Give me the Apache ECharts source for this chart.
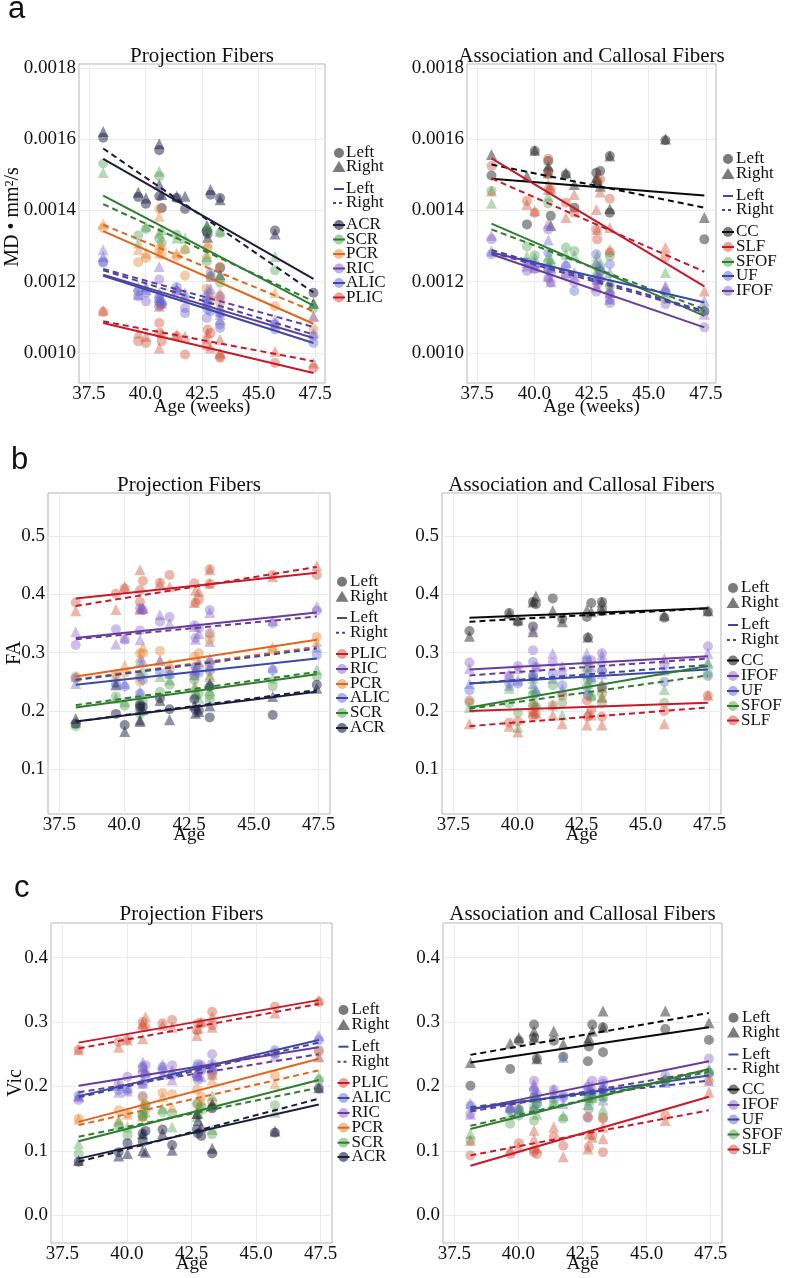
<!DOCTYPE html>
<html><head><meta charset="utf-8">
<script src="https://cdn.jsdelivr.net/npm/echarts@6/dist/echarts.min.js"></script>
<style>html,body{margin:0;padding:0;background:#fff}#c{width:788px;height:1278px}</style>
</head><body><div id="c"></div>
<script>
// ---------- data ----------
const ages = [38.13, 39.68, 40.02, 40.61, 40.61, 40.72, 41.38, 41.75, 42.71, 42.75, 42.88, 43.30, 43.30, 45.73, 47.43];
const fitAges = [38.13, 47.43];
const xTicks = [37.5, 40.0, 42.5, 45.0, 47.5];
const mdTicks = [0.0010, 0.0012, 0.0014, 0.0016, 0.0018];
const faTicks = [0.1, 0.2, 0.3, 0.4, 0.5];
const vicTicks = [0.0, 0.1, 0.2, 0.3, 0.4];

// MD, projection fibers
const md_ACR_L = [0.001604, 0.001438, 0.001419, 0.001569, 0.001440, 0.001407, 0.001435, 0.001404, 0.001342, 0.001335, 0.001444, 0.001435, 0.001239, 0.001344, 0.001169];
const md_ACR_R = [0.001622, 0.001451, 0.001435, 0.001587, 0.001473, 0.001445, 0.001440, 0.001440, 0.001357, 0.001325, 0.001459, 0.001430, 0.001220, 0.001334, 0.001140];
const md_SCR_L = [0.001532, 0.001330, 0.001348, 0.001496, 0.001320, 0.001309, 0.001332, 0.001290, 0.001257, 0.001346, 0.001215, 0.001337, 0.001197, 0.001232, 0.001126];
const md_SCR_R = [0.001507, 0.001309, 0.001356, 0.001510, 0.001337, 0.001346, 0.001323, 0.001323, 0.001271, 0.001356, 0.001223, 0.001342, 0.001215, 0.001271, 0.001140];
const md_PCR_L = [0.001351, 0.001255, 0.001267, 0.001404, 0.001292, 0.001276, 0.001271, 0.001217, 0.001180, 0.001295, 0.001150, 0.001243, 0.001140, 0.001131, 0.001066];
const md_PCR_R = [0.001363, 0.001290, 0.001280, 0.001384, 0.001281, 0.001304, 0.001281, 0.001295, 0.001281, 0.001309, 0.001169, 0.001169, 0.001160, 0.001170, 0.001103];
const md_RIC_L = [0.001257, 0.001159, 0.001145, 0.001206, 0.001155, 0.001136, 0.001173, 0.001126, 0.001098, 0.001150, 0.001225, 0.001159, 0.001080, 0.001080, 0.001047];
const md_RIC_R = [0.001290, 0.001187, 0.001178, 0.001243, 0.001145, 0.001140, 0.001178, 0.001159, 0.001140, 0.001178, 0.001215, 0.001131, 0.001108, 0.001094, 0.001103];
const md_ALIC_L = [0.001253, 0.001173, 0.001169, 0.001145, 0.001131, 0.001140, 0.001185, 0.001112, 0.001136, 0.001122, 0.001117, 0.001112, 0.001070, 0.001066, 0.001028];
const md_ALIC_R = [0.001271, 0.001164, 0.001187, 0.001169, 0.001155, 0.001150, 0.001183, 0.001169, 0.001164, 0.001150, 0.001180, 0.001117, 0.001094, 0.001084, 0.001056];
const md_PLIC_L = [0.001115, 0.001033, 0.001028, 0.001084, 0.001056, 0.001033, 0.001047, 0.000996, 0.001019, 0.001066, 0.001056, 0.000986, 0.000991, 0.000972, 0.000958];
const md_PLIC_R = [0.001120, 0.001056, 0.001047, 0.001131, 0.001014, 0.001056, 0.001052, 0.001047, 0.001042, 0.001056, 0.001014, 0.001038, 0.001000, 0.001005, 0.000972];
// fitted lines: [left start, left end, right start, right end]
const md_ACR_fit = [0.001545, 0.001208, 0.001574, 0.001170];
const md_SCR_fit = [0.001442, 0.001133, 0.001418, 0.001145];
const md_PCR_fit = [0.001342, 0.001082, 0.001360, 0.001117];
const md_RIC_fit = [0.001220, 0.001042, 0.001236, 0.001073];
const md_ALIC_fit = [0.001217, 0.001028, 0.001232, 0.001052];
const md_PLIC_fit = [0.001084, 0.000944, 0.001089, 0.000977];

// MD, association and callosal fibers
const md_CC_L = [0.001498, 0.001361, 0.001567, 0.001539, 0.001511, 0.001385, 0.001501, 0.001408, 0.001506, 0.001482, 0.001511, 0.001553, 0.001394, 0.001597, 0.001319];
const md_CC_R = [0.001557, 0.001497, 0.001569, 0.001525, 0.001506, 0.001358, 0.001506, 0.001473, 0.001492, 0.001482, 0.001468, 0.001553, 0.001405, 0.001601, 0.001380];
const md_SLF_L = [0.001525, 0.001427, 0.001394, 0.001545, 0.001501, 0.001459, 0.001422, 0.001394, 0.001347, 0.001319, 0.001487, 0.001433, 0.001282, 0.001268, 0.001118];
const md_SLF_R = [0.001455, 0.001417, 0.001399, 0.001459, 0.001473, 0.001461, 0.001380, 0.001445, 0.001403, 0.001347, 0.001452, 0.001352, 0.001291, 0.001296, 0.001174];
const md_SFOF_L = [0.001455, 0.001299, 0.001274, 0.001420, 0.001254, 0.001244, 0.001296, 0.001286, 0.001244, 0.001212, 0.001244, 0.001272, 0.001188, 0.001151, 0.001118];
const md_SFOF_R = [0.001420, 0.001272, 0.001268, 0.001441, 0.001272, 0.001265, 0.001277, 0.001274, 0.001230, 0.001272, 0.001235, 0.001202, 0.001184, 0.001226, 0.001123];
const md_UF_L = [0.001277, 0.001254, 0.001244, 0.001282, 0.001235, 0.001226, 0.001244, 0.001174, 0.001277, 0.001202, 0.001230, 0.001249, 0.001151, 0.001170, 0.001118];
const md_UF_R = [0.001286, 0.001254, 0.001254, 0.001317, 0.001244, 0.001240, 0.001254, 0.001226, 0.001254, 0.001216, 0.001244, 0.001226, 0.001170, 0.001184, 0.001146];
const md_IFOF_L = [0.001319, 0.001230, 0.001235, 0.001347, 0.001209, 0.001198, 0.001216, 0.001198, 0.001172, 0.001193, 0.001207, 0.001165, 0.001140, 0.001137, 0.001072];
const md_IFOF_R = [0.001330, 0.001244, 0.001240, 0.001364, 0.001216, 0.001200, 0.001226, 0.001216, 0.001188, 0.001207, 0.001216, 0.001179, 0.001151, 0.001188, 0.001109];
const md_CC_fit = [0.001489, 0.001442, 0.001529, 0.001408];
const md_SLF_fit = [0.001546, 0.001187, 0.001490, 0.001228];
const md_SFOF_fit = [0.001363, 0.001104, 0.001347, 0.001123];
const md_UF_fit = [0.001282, 0.001142, 0.001289, 0.001118];
const md_IFOF_fit = [0.001277, 0.001072, 0.001282, 0.001114];

// FA, projection fibers
const fa_PLIC_L = [0.386, 0.401, 0.410, 0.387, 0.407, 0.423, 0.420, 0.433, 0.419, 0.386, 0.391, 0.443, 0.418, 0.433, 0.433];
const fa_PLIC_R = [0.372, 0.374, 0.414, 0.442, 0.374, 0.376, 0.419, 0.413, 0.386, 0.407, 0.405, 0.442, 0.419, 0.430, 0.449];
const fa_RIC_L = [0.313, 0.340, 0.322, 0.338, 0.376, 0.373, 0.353, 0.361, 0.347, 0.325, 0.342, 0.373, 0.333, 0.350, 0.372];
const fa_RIC_R = [0.336, 0.315, 0.325, 0.322, 0.376, 0.376, 0.365, 0.350, 0.345, 0.323, 0.333, 0.369, 0.319, 0.355, 0.379];
const fa_PCR_L = [0.259, 0.263, 0.265, 0.299, 0.250, 0.299, 0.303, 0.271, 0.293, 0.275, 0.299, 0.322, 0.279, 0.305, 0.327];
const fa_PCR_R = [0.259, 0.263, 0.279, 0.292, 0.265, 0.310, 0.287, 0.282, 0.262, 0.242, 0.285, 0.336, 0.262, 0.310, 0.319];
const fa_ALIC_L = [0.256, 0.247, 0.242, 0.259, 0.230, 0.253, 0.266, 0.262, 0.260, 0.276, 0.265, 0.283, 0.269, 0.270, 0.296];
const fa_ALIC_R = [0.247, 0.250, 0.247, 0.285, 0.233, 0.285, 0.287, 0.265, 0.270, 0.271, 0.282, 0.290, 0.276, 0.275, 0.310];
const fa_SCR_L = [0.174, 0.225, 0.209, 0.195, 0.213, 0.216, 0.233, 0.245, 0.253, 0.226, 0.230, 0.227, 0.219, 0.242, 0.259];
const fa_SCR_R = [0.180, 0.222, 0.216, 0.202, 0.209, 0.270, 0.259, 0.253, 0.242, 0.230, 0.222, 0.259, 0.235, 0.256, 0.271];
const fa_ACR_L = [0.178, 0.195, 0.176, 0.210, 0.206, 0.207, 0.222, 0.203, 0.220, 0.202, 0.201, 0.242, 0.189, 0.193, 0.245];
const fa_ACR_R = [0.187, 0.245, 0.165, 0.182, 0.185, 0.202, 0.218, 0.185, 0.210, 0.196, 0.199, 0.247, 0.209, 0.225, 0.239];
const fa_PLIC_fit = [0.393, 0.437, 0.380, 0.447];
const fa_RIC_fit = [0.325, 0.369, 0.323, 0.362];
const fa_PCR_fit = [0.259, 0.322, 0.254, 0.310];
const fa_ALIC_fit = [0.245, 0.290, 0.253, 0.307];
const fa_SCR_fit = [0.206, 0.263, 0.210, 0.267];
const fa_ACR_fit = [0.182, 0.233, 0.182, 0.236];

// FA, association and callosal fibers
const fa_CC_L = [0.337, 0.368, 0.353, 0.345, 0.387, 0.383, 0.393, 0.358, 0.361, 0.326, 0.385, 0.387, 0.372, 0.360, 0.370];
const fa_CC_R = [0.328, 0.367, 0.356, 0.336, 0.387, 0.397, 0.372, 0.353, 0.373, 0.327, 0.370, 0.387, 0.373, 0.364, 0.372];
const fa_IFOF_L = [0.283, 0.260, 0.277, 0.262, 0.304, 0.276, 0.283, 0.262, 0.284, 0.262, 0.287, 0.299, 0.269, 0.279, 0.311];
const fa_IFOF_R = [0.273, 0.263, 0.273, 0.341, 0.264, 0.276, 0.299, 0.277, 0.299, 0.279, 0.276, 0.296, 0.264, 0.290, 0.299];
const fa_UF_L = [0.235, 0.247, 0.247, 0.284, 0.259, 0.230, 0.264, 0.244, 0.287, 0.227, 0.253, 0.269, 0.242, 0.250, 0.260];
const fa_UF_R = [0.247, 0.244, 0.253, 0.247, 0.261, 0.236, 0.256, 0.237, 0.264, 0.236, 0.259, 0.287, 0.247, 0.270, 0.281];
const fa_SFOF_L = [0.214, 0.213, 0.197, 0.210, 0.227, 0.207, 0.244, 0.214, 0.241, 0.253, 0.224, 0.213, 0.230, 0.214, 0.264];
const fa_SFOF_R = [0.206, 0.239, 0.172, 0.239, 0.256, 0.213, 0.210, 0.193, 0.276, 0.247, 0.227, 0.224, 0.241, 0.237, 0.284];
const fa_SLF_L = [0.218, 0.180, 0.182, 0.199, 0.191, 0.195, 0.210, 0.226, 0.218, 0.190, 0.202, 0.190, 0.239, 0.200, 0.226];
const fa_SLF_R = [0.178, 0.174, 0.164, 0.199, 0.216, 0.196, 0.193, 0.178, 0.176, 0.196, 0.193, 0.176, 0.224, 0.178, 0.227];
const fa_CC_fit = [0.360, 0.376, 0.353, 0.376];
const fa_IFOF_fit = [0.271, 0.294, 0.261, 0.290];
const fa_UF_fit = [0.247, 0.271, 0.247, 0.279];
const fa_SFOF_fit = [0.206, 0.277, 0.204, 0.261];
const fa_SLF_fit = [0.200, 0.214, 0.174, 0.206];

// Vic, projection fibers
const vic_PLIC_L = [0.257, 0.269, 0.273, 0.300, 0.292, 0.292, 0.298, 0.303, 0.287, 0.298, 0.298, 0.316, 0.295, 0.324, 0.331];
const vic_PLIC_R = [0.257, 0.261, 0.272, 0.274, 0.298, 0.308, 0.295, 0.292, 0.279, 0.290, 0.300, 0.308, 0.292, 0.314, 0.334];
const vic_ALIC_L = [0.186, 0.194, 0.194, 0.185, 0.230, 0.219, 0.230, 0.217, 0.230, 0.235, 0.225, 0.235, 0.221, 0.256, 0.272];
const vic_ALIC_R = [0.186, 0.202, 0.198, 0.238, 0.210, 0.222, 0.234, 0.225, 0.222, 0.217, 0.230, 0.235, 0.228, 0.254, 0.279];
const vic_RIC_L = [0.179, 0.204, 0.215, 0.221, 0.204, 0.233, 0.225, 0.233, 0.216, 0.210, 0.233, 0.250, 0.225, 0.251, 0.256];
const vic_RIC_R = [0.184, 0.191, 0.193, 0.230, 0.205, 0.225, 0.219, 0.210, 0.222, 0.219, 0.215, 0.231, 0.219, 0.247, 0.246];
const vic_PCR_L = [0.150, 0.163, 0.158, 0.183, 0.153, 0.171, 0.190, 0.188, 0.195, 0.173, 0.184, 0.217, 0.176, 0.217, 0.254];
const vic_PCR_R = [0.149, 0.149, 0.157, 0.154, 0.173, 0.168, 0.184, 0.168, 0.158, 0.168, 0.178, 0.210, 0.173, 0.204, 0.246];
const vic_SCR_L = [0.095, 0.138, 0.124, 0.153, 0.155, 0.171, 0.160, 0.158, 0.173, 0.155, 0.168, 0.126, 0.168, 0.171, 0.210];
const vic_SCR_R = [0.111, 0.146, 0.137, 0.127, 0.166, 0.160, 0.166, 0.137, 0.153, 0.158, 0.166, 0.186, 0.133, 0.160, 0.215];
const vic_ACR_L = [0.083, 0.098, 0.112, 0.127, 0.114, 0.131, 0.133, 0.109, 0.133, 0.127, 0.123, 0.096, 0.166, 0.128, 0.197];
const vic_ACR_R = [0.085, 0.092, 0.096, 0.100, 0.126, 0.098, 0.127, 0.101, 0.158, 0.147, 0.137, 0.104, 0.173, 0.131, 0.198];
const vic_PLIC_fit = [0.268, 0.334, 0.259, 0.328];
const vic_ALIC_fit = [0.185, 0.272, 0.183, 0.268];
const vic_RIC_fit = [0.201, 0.261, 0.191, 0.250];
const vic_PCR_fit = [0.145, 0.243, 0.140, 0.225];
const vic_SCR_fit = [0.115, 0.210, 0.122, 0.198];
const vic_ACR_fit = [0.088, 0.172, 0.083, 0.181];

// Vic, association and callosal fibers
const vic_CC_L = [0.201, 0.227, 0.271, 0.296, 0.276, 0.243, 0.271, 0.246, 0.239, 0.262, 0.296, 0.253, 0.292, 0.289, 0.272];
const vic_CC_R = [0.237, 0.267, 0.276, 0.286, 0.276, 0.243, 0.286, 0.266, 0.271, 0.276, 0.286, 0.317, 0.292, 0.317, 0.299];
const vic_IFOF_L = [0.157, 0.165, 0.165, 0.209, 0.194, 0.188, 0.195, 0.186, 0.199, 0.183, 0.209, 0.209, 0.194, 0.217, 0.243];
const vic_IFOF_R = [0.157, 0.168, 0.168, 0.204, 0.201, 0.183, 0.196, 0.173, 0.204, 0.194, 0.201, 0.201, 0.199, 0.209, 0.209];
const vic_UF_L = [0.170, 0.163, 0.155, 0.163, 0.183, 0.173, 0.181, 0.183, 0.151, 0.194, 0.188, 0.194, 0.204, 0.209, 0.220];
const vic_UF_R = [0.174, 0.168, 0.163, 0.168, 0.191, 0.188, 0.189, 0.245, 0.172, 0.194, 0.188, 0.179, 0.194, 0.206, 0.225];
const vic_SFOF_L = [0.116, 0.142, 0.163, 0.147, 0.168, 0.173, 0.173, 0.150, 0.181, 0.165, 0.181, 0.152, 0.183, 0.209, 0.222];
const vic_SFOF_R = [0.127, 0.157, 0.165, 0.183, 0.183, 0.157, 0.174, 0.155, 0.184, 0.179, 0.183, 0.165, 0.186, 0.214, 0.227];
const vic_SLF_L = [0.093, 0.095, 0.112, 0.101, 0.098, 0.095, 0.122, 0.108, 0.153, 0.106, 0.124, 0.098, 0.150, 0.155, 0.209];
const vic_SLF_R = [0.116, 0.101, 0.106, 0.132, 0.119, 0.105, 0.137, 0.091, 0.103, 0.126, 0.121, 0.119, 0.137, 0.147, 0.191];
const vic_CC_fit = [0.237, 0.292, 0.249, 0.314];
const vic_IFOF_fit = [0.164, 0.239, 0.161, 0.225];
const vic_UF_fit = [0.165, 0.217, 0.168, 0.209];
const vic_SFOF_fit = [0.134, 0.227, 0.139, 0.223];
const vic_SLF_fit = [0.077, 0.184, 0.093, 0.163];

// ---------- styles ----------
const lineColor = {ACR:'#1c1c3c', SCR:'#2f7d2f', PCR:'#e2661a', RIC:'#6a3b9c', ALIC:'#3b49a6', PLIC:'#c8192b',
  CC:'#0a0a0a', SLF:'#c8192b', SFOF:'#2f7d2f', UF:'#3b49a6', IFOF:'#6a3b9c'};
const pointColor = {ACR:'rgba(30,30,70,0.62)', SCR:'rgba(70,155,70,0.48)', PCR:'rgba(232,132,50,0.52)',
  RIC:'rgba(128,88,200,0.48)', ALIC:'rgba(92,100,212,0.5)', PLIC:'rgba(212,88,62,0.55)',
  CC:'rgba(40,40,40,0.62)', SLF:'rgba(212,88,62,0.55)', SFOF:'rgba(70,155,70,0.48)', UF:'rgba(92,100,212,0.5)', IFOF:'rgba(128,88,200,0.48)'};

const FONT = '"Liberation Serif", "DejaVu Serif", serif';
const xRange = [37.06, 47.94];

function tract(name, L, R, fit){ return {name, L, R, fit}; }

const panels = [
  {grid:{left:79, top:64, width:246, height:319}, y:[0.0009158, 0.0018112], ticks:mdTicks, dec:4,
   title:'Projection Fibers', titleY:56, xName:'Age (weeks)', xNameY:407, yName:'MD • mm²/s', yNameX:13, yNameY:217,
   keyX:339, textX:346, keyYs:[153,167,189,203,225,239.5,254,268.5,283,297.5],
   tracts:[tract('ACR',md_ACR_L,md_ACR_R,md_ACR_fit), tract('SCR',md_SCR_L,md_SCR_R,md_SCR_fit), tract('PCR',md_PCR_L,md_PCR_R,md_PCR_fit),
           tract('RIC',md_RIC_L,md_RIC_R,md_RIC_fit), tract('ALIC',md_ALIC_L,md_ALIC_R,md_ALIC_fit), tract('PLIC',md_PLIC_L,md_PLIC_R,md_PLIC_fit)]},
  {grid:{left:467, top:64, width:249, height:319}, y:[0.0009158, 0.0018112], ticks:mdTicks, dec:4,
   title:'Association and Callosal Fibers', titleY:56, xName:'Age (weeks)', xNameY:407,
   keyX:728, textX:736, keyYs:[159,174,196,210,232,247,262,276,291],
   tracts:[tract('CC',md_CC_L,md_CC_R,md_CC_fit), tract('SLF',md_SLF_L,md_SLF_R,md_SLF_fit), tract('SFOF',md_SFOF_L,md_SFOF_R,md_SFOF_fit),
           tract('UF',md_UF_L,md_UF_R,md_UF_fit), tract('IFOF',md_IFOF_L,md_IFOF_R,md_IFOF_fit)]},
  {grid:{left:48, top:493, width:282, height:321}, y:[0.0234, 0.5737], ticks:faTicks, dec:1,
   title:'Projection Fibers', titleY:485.5, xName:'Age', xNameY:835, yName:'FA', yNameX:15, yNameY:653,
   keyX:342, textX:350, keyYs:[581.7,596.7,618,632.7,654,669,684,698,713,728],
   tracts:[tract('PLIC',fa_PLIC_L,fa_PLIC_R,fa_PLIC_fit), tract('RIC',fa_RIC_L,fa_RIC_R,fa_RIC_fit), tract('PCR',fa_PCR_L,fa_PCR_R,fa_PCR_fit),
           tract('ALIC',fa_ALIC_L,fa_ALIC_R,fa_ALIC_fit), tract('SCR',fa_SCR_L,fa_SCR_R,fa_SCR_fit), tract('ACR',fa_ACR_L,fa_ACR_R,fa_ACR_fit)]},
  {grid:{left:442, top:493, width:279, height:321}, y:[0.0234, 0.5737], ticks:faTicks, dec:1,
   title:'Association and Callosal Fibers', titleY:485.5, xName:'Age', xNameY:835,
   keyX:733, textX:741, keyYs:[588,603,625,640,660.5,676,691,706,720.5],
   tracts:[tract('CC',fa_CC_L,fa_CC_R,fa_CC_fit), tract('IFOF',fa_IFOF_L,fa_IFOF_R,fa_IFOF_fit), tract('UF',fa_UF_L,fa_UF_R,fa_UF_fit),
           tract('SFOF',fa_SFOF_L,fa_SFOF_R,fa_SFOF_fit), tract('SLF',fa_SLF_L,fa_SLF_R,fa_SLF_fit)]},
  {grid:{left:51, top:923, width:281, height:320}, y:[-0.043, 0.4537], ticks:vicTicks, dec:1,
   title:'Projection Fibers', titleY:914.5, xName:'Age', xNameY:1264, yName:'Vic', yNameX:16, yNameY:1083,
   keyX:343.5, textX:351.5, keyYs:[1010,1025,1046.7,1061.7,1083,1098,1113,1127.7,1142.7,1157],
   tracts:[tract('PLIC',vic_PLIC_L,vic_PLIC_R,vic_PLIC_fit), tract('ALIC',vic_ALIC_L,vic_ALIC_R,vic_ALIC_fit), tract('RIC',vic_RIC_L,vic_RIC_R,vic_RIC_fit),
           tract('PCR',vic_PCR_L,vic_PCR_R,vic_PCR_fit), tract('SCR',vic_SCR_L,vic_SCR_R,vic_SCR_fit), tract('ACR',vic_ACR_L,vic_ACR_R,vic_ACR_fit)]},
  {grid:{left:443, top:923, width:279, height:320}, y:[-0.043, 0.4537], ticks:vicTicks, dec:1,
   title:'Association and Callosal Fibers', titleY:914.5, xName:'Age', xNameY:1264,
   keyX:733.5, textX:742, keyYs:[1017.7,1032.5,1054.5,1069,1089.5,1105,1119.5,1134.5,1149.5],
   tracts:[tract('CC',vic_CC_L,vic_CC_R,vic_CC_fit), tract('IFOF',vic_IFOF_L,vic_IFOF_R,vic_IFOF_fit), tract('UF',vic_UF_L,vic_UF_R,vic_UF_fit),
           tract('SFOF',vic_SFOF_L,vic_SFOF_R,vic_SFOF_fit), tract('SLF',vic_SLF_L,vic_SLF_R,vic_SLF_fit)]}
];

const grids = [], xAxes = [], yAxes = [], series = [], graphics = [];

function txt(x, y, text, size, opts){
  opts = opts || {};
  return {type:'text', x, y, rotation: opts.rotation || 0, silent:true, z:100,
    style:{text, font:(opts.weight||'normal')+' '+size+'px '+(opts.family||FONT), fill:opts.fill||'#111',
      align:opts.align||'left', verticalAlign:'middle', textAlign:opts.align||'left', textVerticalAlign:'middle'}};
}

panels.forEach((p, i) => {
  grids.push(Object.assign({show:true, borderColor:'#b5b5b5', borderWidth:1, backgroundColor:'#fff'}, p.grid));
  xAxes.push({gridIndex:i, type:'value', min:xRange[0], max:xRange[1],
    axisLine:{show:false}, axisTick:{show:false, customValues:xTicks},
    axisLabel:{customValues:xTicks, formatter:v=>v.toFixed(1), fontFamily:FONT, fontSize:19, color:'#111', margin:2},
    splitLine:{show:true, lineStyle:{color:'#ebebeb', width:1}}});
  yAxes.push({gridIndex:i, type:'value', min:p.y[0], max:p.y[1],
    axisLine:{show:false}, axisTick:{show:false, customValues:p.ticks},
    axisLabel:{customValues:p.ticks, formatter:v=>v.toFixed(p.dec), fontFamily:FONT, fontSize:19, color:'#111', margin:3},
    splitLine:{show:true, lineStyle:{color:'#ebebeb', width:1}}});

  p.tracts.forEach(t => {
    series.push({type:'scatter', xAxisIndex:i, yAxisIndex:i, symbol:'circle', symbolSize:10, silent:true, z:2,
      itemStyle:{color:pointColor[t.name]}, data:ages.map((a,k)=>[a, t.L[k]])});
    series.push({type:'scatter', xAxisIndex:i, yAxisIndex:i, symbol:'triangle', symbolSize:11, silent:true, z:2,
      itemStyle:{color:pointColor[t.name]}, data:ages.map((a,k)=>[a, t.R[k]])});
  });
  p.tracts.forEach(t => {
    series.push({type:'line', xAxisIndex:i, yAxisIndex:i, showSymbol:false, symbol:'none', silent:true, z:3,
      lineStyle:{color:lineColor[t.name], width:2, type:'solid'},
      data:[[fitAges[0], t.fit[0]], [fitAges[1], t.fit[1]]]});
    series.push({type:'line', xAxisIndex:i, yAxisIndex:i, showSymbol:false, symbol:'none', silent:true, z:3,
      lineStyle:{color:lineColor[t.name], width:2, type:[6,4]},
      data:[[fitAges[0], t.fit[2]], [fitAges[1], t.fit[3]]]});
  });

  const cx = p.grid.left + p.grid.width / 2;
  graphics.push(txt(cx, p.titleY, p.title, 21, {align:'center'}));
  graphics.push(txt(cx, p.xNameY, p.xName, 19, {align:'center'}));
  if (p.yName) graphics.push(txt(p.yNameX, p.yNameY, p.yName, 20, {align:'center', rotation:Math.PI/2}));

  // legend
  const ky = p.keyYs, kx = p.keyX, tx = p.textX;
  graphics.push({type:'circle', silent:true, z:100, shape:{cx:kx, cy:ky[0], r:5}, style:{fill:'#7a7a7a'}});
  graphics.push(txt(tx, ky[0], 'Left', 17));
  graphics.push({type:'polygon', silent:true, z:100, shape:{points:[[kx, ky[1]-6],[kx-6.5, ky[1]+5],[kx+6.5, ky[1]+5]]}, style:{fill:'#7a7a7a'}});
  graphics.push(txt(tx, ky[1], 'Right', 17));
  graphics.push({type:'line', silent:true, z:100, shape:{x1:kx-5, y1:ky[2], x2:kx+5, y2:ky[2]}, style:{stroke:'#3b49a6', lineWidth:2}});
  graphics.push(txt(tx, ky[2], 'Left', 17));
  graphics.push({type:'line', silent:true, z:100, shape:{x1:kx-6, y1:ky[3], x2:kx+5, y2:ky[3]}, style:{stroke:'#3b49a6', lineWidth:2, lineDash:[3,3]}});
  graphics.push(txt(tx, ky[3], 'Right', 17));
  p.tracts.forEach((t, j) => {
    const y = ky[4 + j];
    graphics.push({type:'circle', silent:true, z:100, shape:{cx:kx, cy:y, r:5}, style:{fill:pointColor[t.name]}});
    graphics.push({type:'line', silent:true, z:101, shape:{x1:kx-6, y1:y, x2:kx+6, y2:y}, style:{stroke:lineColor[t.name], lineWidth:2}});
    graphics.push(txt(tx, y, t.name, 17));
  });
});

graphics.push(txt(8, 9, 'a', 31, {family:'"Liberation Sans", Arial, sans-serif'}));
graphics.push(txt(11, 460.5, 'b', 31, {family:'"Liberation Sans", Arial, sans-serif'}));
graphics.push(txt(14, 888.5, 'c', 31, {family:'"Liberation Sans", Arial, sans-serif'}));

const chart = echarts.init(document.getElementById('c'), null, {renderer:'canvas', width:788, height:1278});
chart.setOption({animation:false, backgroundColor:'#fff', grid:grids, xAxis:xAxes, yAxis:yAxes, series, graphic:graphics});
</script>
</body></html>
